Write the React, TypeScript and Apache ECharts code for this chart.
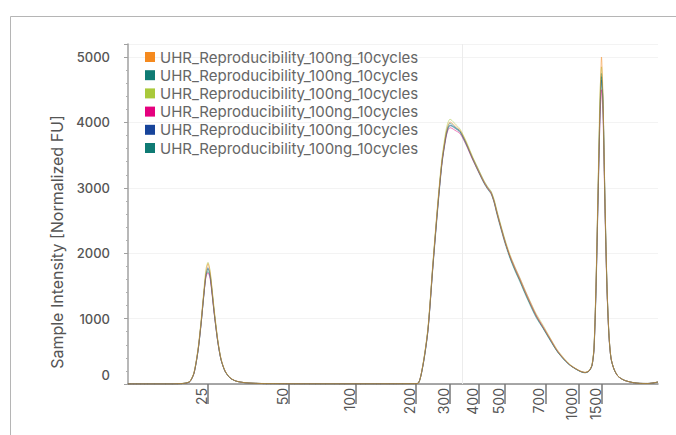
import React, { useEffect, useRef } from "react";
import * as echarts from "echarts";

// Migration position (arbitrary units along the run) for each sample point
const positions = [0,22,42,52,58,62,66,70,73,76,78,80,82,84,86,88,90,93,97,102,108,117,132,162,202,242,272,284,290,295,300,305,310,314,318,320,322,324,327,332,338,344,350,356,360,363,366,369,372,377,382,387,392,397,402,408,415,422,429,436,442,448,453,457,461,464,466,468,470,472,473.5,475,477,479,481,483,486,490,496,504,512,520,530];

// Size ladder: tick positions and their bp labels
const tickPositions = [80, 161, 228, 288, 322, 351, 377, 417.5, 450.5, 474];
const tickLabels = ["25", "50", "100", "200", "300", "400", "500", "700", "1000", "1500"];

const cursorPos = [334];

const sampleNames = [
  "UHR_Reproducibility_100ng_10cycles#1",
  "UHR_Reproducibility_100ng_10cycles#2",
  "UHR_Reproducibility_100ng_10cycles#3",
  "UHR_Reproducibility_100ng_10cycles#4",
  "UHR_Reproducibility_100ng_10cycles#5",
  "UHR_Reproducibility_100ng_10cycles#6",
];
const sampleColors = ["#f58a1f", "#0f7b74", "#a9c93b", "#e5007e", "#17449a", "#0f7b74"];

const s1 = [0,0,0,5,15,40,170,520,930,1420,1710,1840,1720,1450,1150,880,640,380,200,95,45,20,8,3,2,2,3,5,10,300,850,1850,2780,3420,3830,3950,4010,3990,3950,3880,3700,3480,3280,3090,2990,2930,2800,2620,2450,2180,1950,1760,1590,1410,1240,1050,870,690,510,380,290,230,190,175,200,290,550,1500,2900,4300,5000,4400,2800,1500,750,400,230,120,60,25,10,8,30];
const s2 = [0,0,0,4,14,36,160,500,900,1380,1660,1760,1660,1400,1110,850,620,370,195,92,44,19,8,3,2,2,3,5,12,280,820,1800,2720,3370,3780,3900,3950,3940,3910,3850,3670,3460,3260,3070,2970,2910,2780,2590,2420,2150,1920,1730,1560,1380,1210,1020,850,670,500,370,285,225,185,170,195,280,520,1400,2750,4100,4700,4250,2700,1450,720,390,225,118,58,24,10,8,28];
const s3 = [0,0,0,6,16,44,180,540,960,1460,1760,1860,1740,1470,1170,900,655,390,205,98,46,21,9,3,2,2,3,5,9,310,870,1880,2820,3460,3880,4000,4050,4030,3980,3900,3720,3500,3300,3110,3010,2950,2830,2650,2480,2210,1980,1790,1620,1440,1270,1080,900,710,530,395,300,235,195,180,205,300,570,1550,3000,4450,4850,4300,2750,1480,740,395,228,119,59,25,10,8,30];
const s4 = [0,0,0,5,14,38,165,510,910,1390,1640,1700,1620,1380,1100,850,625,375,198,94,45,20,8,3,2,2,3,5,11,290,830,1820,2750,3380,3770,3880,3920,3910,3880,3830,3660,3450,3260,3080,2980,2920,2790,2610,2440,2170,1960,1780,1610,1430,1260,1060,880,700,520,385,292,232,192,176,200,285,530,1450,2800,4050,4500,4100,2650,1430,720,390,225,118,58,24,10,8,29];
const s5 = [0,0,0,5,15,39,168,515,920,1400,1680,1780,1690,1430,1130,870,632,378,198,94,45,20,8,3,2,2,3,5,10,295,840,1830,2760,3400,3800,3920,3960,3950,3920,3860,3690,3480,3290,3100,3000,2940,2810,2630,2460,2190,1940,1750,1580,1400,1230,1040,860,680,505,375,288,228,188,174,198,288,540,1480,2850,4200,4650,4300,2750,1470,735,395,228,119,59,25,10,8,30];
const s6 = [0,0,0,5,15,40,165,505,915,1395,1670,1720,1650,1410,1120,860,628,374,196,93,44,20,8,3,2,2,3,5,10,290,835,1840,2770,3410,3820,3940,3990,3970,3930,3870,3690,3470,3270,3080,2985,2925,2795,2615,2445,2175,1945,1755,1585,1405,1235,1045,865,685,508,378,289,229,189,175,199,289,545,1490,2880,4250,4750,4350,2780,1490,745,398,229,120,60,25,10,8,30];

const sampleValues = [s1, s2, s3, s4, s5, s6];

const yTicks = { min: 0, max: 5200, interval: 1000 };

export default function App() {
  const ref = useRef<HTMLDivElement>(null);

  useEffect(() => {
    if (!ref.current) return;
    const chart = echarts.init(ref.current, null, { renderer: "svg" });
    const font = "Inter, Roboto, sans-serif";

    const series: any[] = sampleNames.map((name, i) => ({
      name,
      type: "line",
      data: positions.map((p, j) => [p, sampleValues[i][j]]),
      showSymbol: false,
      smooth: 0.25,
      lineStyle: { width: 1, color: sampleColors[i], opacity: 0.5 },
      itemStyle: { color: sampleColors[i] },
      z: 10 - i,
      ...(i === 0
        ? {
            markLine: {
              silent: true,
              symbol: "none",
              label: { show: false },
              lineStyle: { color: "#ececec", width: 1, type: "solid", opacity: 1 },
              data: cursorPos.map((x) => ({ xAxis: x })),
              z: 1,
            },
          }
        : {}),
    }));

    chart.setOption({
      animation: false,
      textStyle: { fontFamily: font },
      graphic: [
        {
          type: "rect",
          left: 8,
          top: 14,
          shape: { width: 720, height: 460 },
          style: { fill: "none", stroke: "#b5b5b5", lineWidth: 1 },
          silent: true,
          z: -1,
        },
      ],
      grid: { left: 128, right: 18, top: 44, bottom: 51, containLabel: false },
      legend: {
        show: true,
        orient: "vertical",
        left: 145,
        top: 49,
        padding: 0,
        itemWidth: 10,
        itemHeight: 10,
        itemGap: 2.2,
        itemTextGap: 7,
        icon: "rect",
        data: sampleNames,
        formatter: (n: string) => n.replace(/#\d+$/, ""),
        textStyle: { fontSize: 15, color: "#666", fontFamily: font, lineHeight: 16 },
        selectedMode: false,
      },
      xAxis: {
        type: "value",
        min: 0,
        max: 530,
        axisLine: { show: true, onZero: false, lineStyle: { color: "#8a8a8a", width: 1.5 } },
        axisTick: {
          show: true,
          customValues: tickPositions,
          length: 20,
          lineStyle: { color: "#777", width: 1.5 },
        },
        axisLabel: {
          customValues: tickPositions,
          rotate: 90,
          fontSize: 14,
          color: "#555",
          margin: 4,
          verticalAlign: "bottom",
          formatter: (v: number) => {
            let best = 0;
            for (let k = 0; k < tickPositions.length; k++) {
              if (Math.abs(tickPositions[k] - v) < Math.abs(tickPositions[best] - v)) best = k;
            }
            return tickLabels[best];
          },
        },
        splitLine: { show: false },
      },
      yAxis: {
        type: "value",
        min: yTicks.min,
        max: yTicks.max,
        interval: yTicks.interval,
        name: "Sample Intensity [Normalized FU]",
        nameLocation: "middle",
        nameGap: 63,
        nameTextStyle: { fontSize: 16, color: "#555", fontFamily: font, padding: [0, 56, 0, 0] },
        axisLine: { show: true, lineStyle: { color: "#a0a0a0", width: 1.5 } },
        axisTick: { show: true, length: 4, lineStyle: { color: "#a0a0a0" } },
        minorTick: { show: true, splitNumber: 5, length: 2, lineStyle: { color: "#b0b0b0" } },
        axisLabel: {
          fontSize: 13,
          color: "#555",
          fontWeight: 500,
          margin: 18,
          showMaxLabel: false,
          formatter: (v: number) => (v === 0 ? "{z|0}" : String(v)),
          rich: { z: { padding: [0, 0, 18, 0], fontSize: 13, color: "#555", fontWeight: 500 } },
        },
        splitLine: { show: true, lineStyle: { color: "#f3f3f3", width: 1 } },
      },
      series,
    });

    return () => chart.dispose();
  }, []);

  return (
    <div
      ref={ref}
      style={{ position: "fixed", left: 0, top: 0, width: 676, height: 435, background: "#fff" }}
    />
  );
}
